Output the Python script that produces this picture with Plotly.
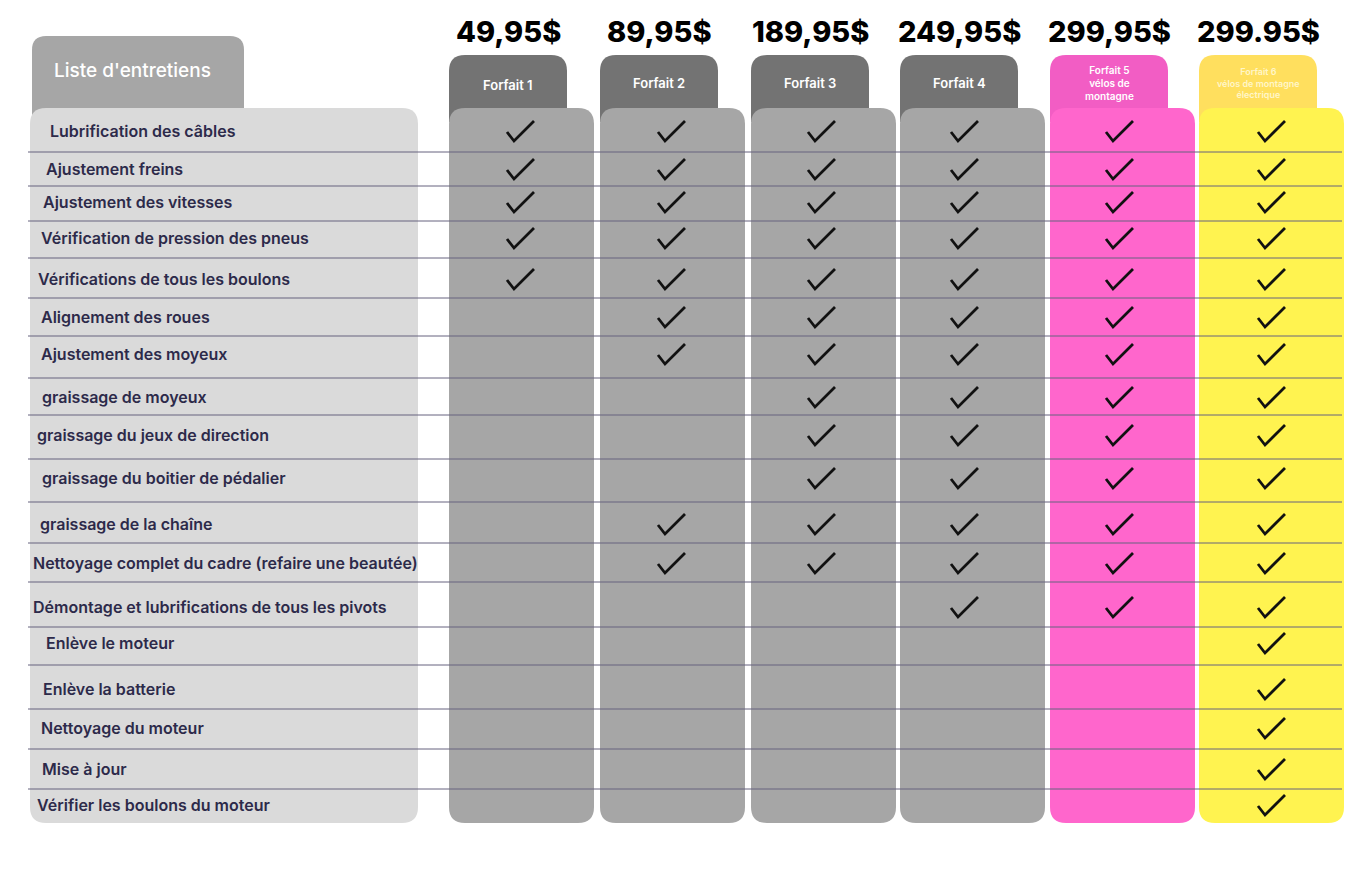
import plotly.graph_objects as go

# data
services = [
    "Lubrification des câbles",
    "Ajustement freins",
    "Ajustement des vitesses",
    "Vérification de pression des pneus",
    "Vérifications de tous les boulons",
    "Alignement des roues",
    "Ajustement des moyeux",
    "graissage de moyeux",
    "graissage du jeux de direction",
    "graissage du boitier de pédalier",
    "graissage de la chaîne",
    "Nettoyage complet du cadre (refaire une beautée)",
    "Démontage et lubrifications de tous les pivots",
    "Enlève le moteur",
    "Enlève la batterie",
    "Nettoyage du moteur",
    "Mise à jour",
    "Vérifier les boulons du moteur",
]
plans = ["Forfait 1", "Forfait 2", "Forfait 3", "Forfait 4",
         "Forfait 5<br>vélos de<br>montagne",
         "Forfait 6<br>vélos de montagne<br>électrique"]
prices = ["49,95$", "89,95$", "189,95$", "249,95$", "299,95$", "299.95$"]

# 1 = service included in the plan
forfait_1 = [1, 1, 1, 1, 1, 0, 0, 0, 0, 0, 0, 0, 0, 0, 0, 0, 0, 0]
forfait_2 = [1, 1, 1, 1, 1, 1, 1, 0, 0, 0, 1, 1, 0, 0, 0, 0, 0, 0]
forfait_3 = [1, 1, 1, 1, 1, 1, 1, 1, 1, 1, 1, 1, 0, 0, 0, 0, 0, 0]
forfait_4 = [1, 1, 1, 1, 1, 1, 1, 1, 1, 1, 1, 1, 1, 0, 0, 0, 0, 0]
forfait_5 = [1, 1, 1, 1, 1, 1, 1, 1, 1, 1, 1, 1, 1, 0, 0, 0, 0, 0]
forfait_6 = [1, 1, 1, 1, 1, 1, 1, 1, 1, 1, 1, 1, 1, 1, 1, 1, 1, 1]
included = [forfait_1, forfait_2, forfait_3, forfait_4, forfait_5, forfait_6]

# layout (page pixels, y downwards; the page has an 8px body margin)
W, H = 1366, 878
PAD = 8
row_centres = [131, 169, 202, 238, 279, 317, 354, 397, 435, 478,
               524, 563, 607, 643, 689, 728, 769, 805]
label_x = [50, 46, 43, 41, 38, 41, 41, 42, 37, 42, 40, 33, 33, 46, 43, 41, 42, 37]
row_lines = [152, 186, 221, 258, 298, 336, 378, 415, 459, 502,
             543, 582, 627, 665, 709, 749, 789]
col_left = [449, 600, 751, 900, 1050, 1199]
check_dx = [71, 71, 70, 64, 69, 72]
col_w, tab_w = 145, 118
body_top, body_bot = 108, 823
tab_top = 55
tab_colors = ["#737373"] * 4 + ["#F25DC4", "#FFDF5E"]
body_colors = ["#A6A6A6"] * 4 + ["#FF66CC", "#FFF350"]
tab_font = [13, 13, 13, 13, 10, 9]
tab_font_col = ["white"] * 5 + ["#FFF6C8"]
tab_text_y = [85, 83, 83, 83, 83, 83]
# check mark stroke shape, relative to the cell centre
tick_dx = [-13, -6, 14]
tick_dy = [1, 10, -10]


def rrect(x0, y0, x1, y1, r, top_only=False):
    rb = 0 if top_only else r
    return (f"M {x0 + r},{y0} L {x1 - r},{y0} Q {x1},{y0} {x1},{y0 + r} "
            f"L {x1},{y1 - rb} Q {x1},{y1} {x1 - rb},{y1} L {x0 + rb},{y1} "
            f"Q {x0},{y1} {x0},{y1 - rb} L {x0},{y0 + r} Q {x0},{y0} {x0 + r},{y0} Z")


shapes = []
# left panel
shapes.append(dict(type="path", path=rrect(32, 36, 244, 120, 14, True),
                   fillcolor="#A6A6A6", line_width=0, layer="below"))
shapes.append(dict(type="path", path=rrect(30, 108, 418, body_bot, 16),
                   fillcolor="#DADADA", line_width=0, layer="below"))
# plan columns
for i, x0 in enumerate(col_left):
    shapes.append(dict(type="path", path=rrect(x0, tab_top, x0 + tab_w, 122, 16, True),
                       fillcolor=tab_colors[i], line_width=0, layer="below"))
    shapes.append(dict(type="path", path=rrect(x0, body_top, x0 + col_w, body_bot, 16),
                       fillcolor=body_colors[i], line_width=0, layer="below"))
# row separators
for y in row_lines:
    shapes.append(dict(type="line", x0=28, x1=1342, y0=y, y1=y,
                       line=dict(color="#66637E", width=1), layer="above"))

fig = go.Figure()

# row labels
fig.add_trace(go.Scatter(
    x=label_x, y=[y + 2 for y in row_centres], text=services, mode="text",
    textposition="middle right",
    textfont=dict(family="Inter", size=16, color="#2D2A4A", weight=600),
    hoverinfo="skip", showlegend=False))

# check marks
for i, plan in enumerate(included):
    xs, ys = [], []
    cx = col_left[i] + check_dx[i]
    for r, v in enumerate(plan):
        if v:
            xs += [cx + d for d in tick_dx] + [None]
            ys += [row_centres[r] + d for d in tick_dy] + [None]
    fig.add_trace(go.Scatter(
        x=xs, y=ys, mode="lines", line=dict(color="#111111", width=2.8),
        hoverinfo="skip", showlegend=False))

annotations = [dict(x=52, y=70, text="Liste d'entretiens", showarrow=False,
                    xanchor="left", font=dict(family="Inter", size=19, color="white", weight=500))]
for i, x0 in enumerate(col_left):
    cx = x0 + tab_w / 2
    annotations.append(dict(x=cx, y=31, text=prices[i], showarrow=False,
                            font=dict(family="Inter", size=29, color="black", weight=800)))
    annotations.append(dict(x=cx, y=tab_text_y[i], text=plans[i], showarrow=False,
                            font=dict(family="Inter", size=tab_font[i], color=tab_font_col[i],
                                      weight=600)))

fig.update_layout(
    width=W - PAD, height=H - PAD, margin=dict(l=0, r=0, t=0, b=0),
    paper_bgcolor="white", plot_bgcolor="white",
    xaxis=dict(range=[PAD, W], visible=False, fixedrange=True),
    yaxis=dict(range=[H, PAD], visible=False, fixedrange=True),
    shapes=shapes, annotations=annotations,
)
fig.write_html("out.html")
